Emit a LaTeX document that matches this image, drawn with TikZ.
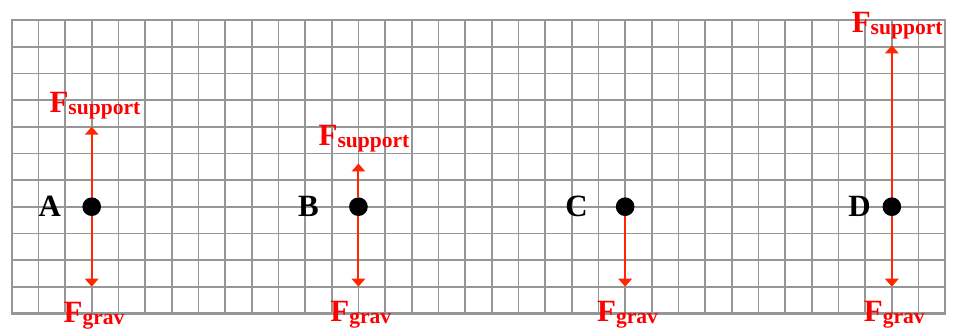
\documentclass[tikz,border=0pt]{standalone}
\usepackage{fontspec}
\setmainfont{Liberation Serif}
\usetikzlibrary{arrows.meta,positioning,calc}
\definecolor{forcered}{RGB}{255,38,0}
\definecolor{gridgray}{RGB}{150,150,150}
\newcommand{\forcelbl}[1]{F\raisebox{-2.7pt}{\fontsize{23}{23}\selectfont #1}}

\begin{document}
\begin{tikzpicture}[
  gridline/.style={draw=gridgray,line width=1.8pt},
  body/.style={circle,fill=black,inner sep=0pt,minimum size=0.7cm},
  force/.style={draw=forcered,line width=2.1pt,-{Triangle[width=0.5cm,length=0.3cm]}},
  flabel/.style={text=red,font=\fontsize{33}{33}\selectfont\bfseries,inner sep=0pt,anchor=base},
  ptlabel/.style={font=\fontsize{33}{33}\selectfont\bfseries,inner sep=0pt}]
\useasboundingbox (-0.439,-0.589) rectangle (35.48,11.75);
% graph paper
\foreach \x in {0,...,35} \draw[gridline] (\x,0) -- (\x,11);
\foreach \y in {0,...,11} \draw[gridline] (0,\y) -- (35,\y);
\draw[gridline,line width=2.4pt] (0,0) rectangle (35,11);
% arrow ends
\coordinate (Atop) at (3,7);      \coordinate (Abot) at (3,1);
\coordinate (Btop) at (13,5.62);  \coordinate (Bbot) at (13,1);
\coordinate (Cbot) at (23,1);
\coordinate (Dtop) at (33,10.05); \coordinate (Dbot) at (33,1);
% objects
\node[body] (A) at (3,4) {};
\node[body] (B) at (13,4) {};
\node[body] (C) at (23,4) {};
\node[body] (D) at (33,4) {};
\path[force] (A) -- (Atop);
\path[force] (A) -- (Abot);
\path[force] (B) -- (Btop);
\path[force] (B) -- (Bbot);
\path[force] (C) -- (Cbot);
\path[force] (D) -- (Dtop);
\path[force] (D) -- (Dbot);
\node[ptlabel,left=0.79 of A] (Alab) {A};
\node[ptlabel,left=1.12 of B] (Blab) {B};
\node[ptlabel,left=1.04 of C] (Clab) {C};
\node[ptlabel,left=0.43 of D] (Dlab) {D};
% force labels
\node[flabel] (Asup) at ($(Atop)+(0.12,0.55)$) {\forcelbl{support}};
\node[flabel] (Bsup) at ($(Btop)+(0.21,0.69)$) {\forcelbl{support}};
\node[flabel] (Dsup) at ($(Dtop)+(0.2,0.5)$) {\forcelbl{support}};
\node[flabel] (Agrav) at ($(Abot)+(0.09,-1.33)$) {\forcelbl{grav}};
\node[flabel] (Bgrav) at ($(Bbot)+(0.09,-1.3)$) {\forcelbl{grav}};
\node[flabel] (Cgrav) at ($(Cbot)+(0.09,-1.3)$) {\forcelbl{grav}};
\node[flabel] (Dgrav) at ($(Dbot)+(0.09,-1.3)$) {\forcelbl{grav}};
\end{tikzpicture}
\end{document}
